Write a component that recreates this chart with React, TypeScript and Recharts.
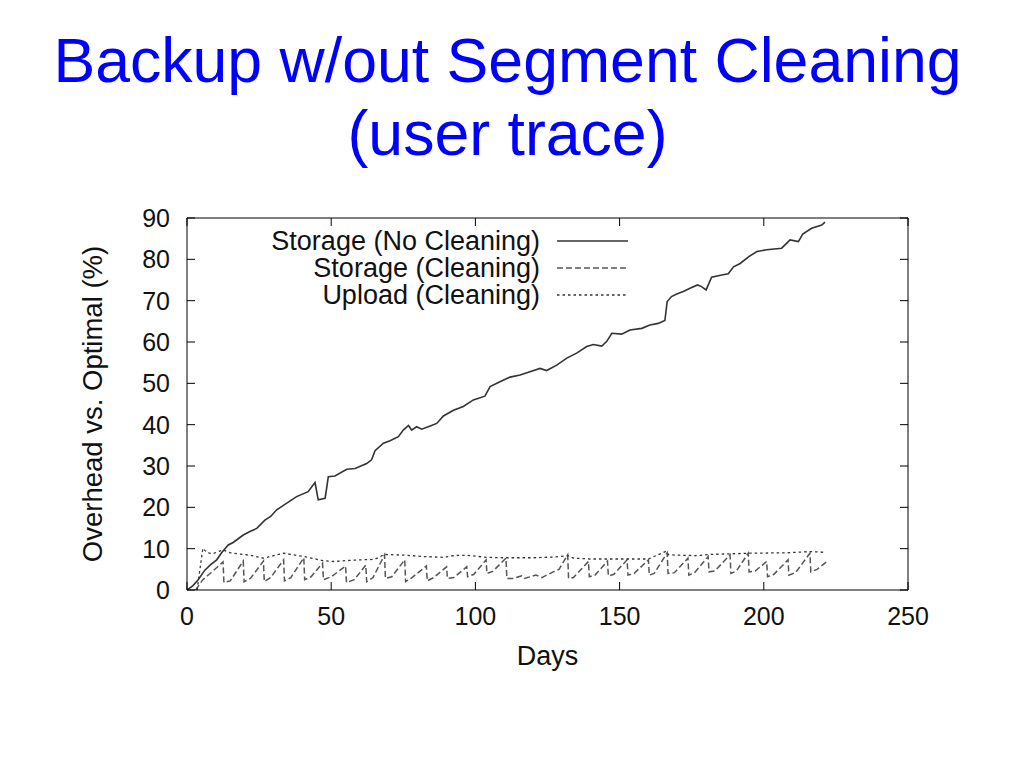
import React from "react";
import { LineChart, Line, XAxis, YAxis, Legend } from "recharts";

// Storage overhead without cleaning (day, %)
const noCleanDays = [0, 2, 3.8, 6.2, 8, 10.3, 12, 14.3, 16, 19.5, 22, 24.2, 27, 29, 31.1, 34.6, 38, 42, 44.4, 45.5, 47.9, 49, 51.3, 55.4, 58.3, 62.3, 64, 65.2, 68.1, 70.4, 73.3, 75, 76.8, 77.9, 79.6, 81.4, 84.3, 86.6, 88.9, 92.4, 95.8, 99.3, 103.3, 105.1, 108.5, 112, 115.5, 118.9, 122.4, 124.7, 128.2, 131.7, 135.1, 138.6, 140.9, 143.8, 145.5, 147.3, 150.7, 153.6, 157.7, 160.5, 163.4, 165.7, 166.5, 168, 169.8, 172.1, 174.4, 177, 178.4, 180, 181.9, 185.4, 187.7, 189.5, 191.8, 194.7, 197.6, 201, 206.2, 209.1, 212, 213.5, 216.6, 220.1, 221.2];
const noCleanValues = [0, 1.0, 2.4, 4.8, 6, 7.3, 9, 10.9, 11.5, 13.3, 14.2, 14.9, 16.9, 17.8, 19.4, 21, 22.6, 23.8, 26, 21.8, 22.2, 27.4, 27.6, 29.2, 29.4, 30.6, 31.5, 33.7, 35.5, 36.1, 37.1, 38.7, 39.8, 38.7, 39.5, 38.9, 39.7, 40.3, 42.1, 43.5, 44.4, 46, 46.9, 49.2, 50.4, 51.5, 52, 52.8, 53.6, 53.1, 54.4, 56.1, 57.3, 58.9, 59.4, 59, 60.1, 62.1, 61.9, 62.9, 63.3, 64.1, 64.5, 65.2, 69.8, 71, 71.6, 72.2, 73, 73.8, 73.4, 72.6, 75.7, 76.2, 76.5, 78.2, 79, 80.6, 81.9, 82.3, 82.7, 84.7, 84.3, 86.1, 87.5, 88.3, 89];

// Storage overhead with cleaning (day, %)
const cleanDays = [3, 5.5, 8, 12.5, 12.8, 15, 19.5, 19.8, 22, 26.5, 26.8, 29, 33.5, 33.8, 36, 40.5, 40.8, 43, 47, 47.3, 50, 55, 55.3, 58, 62, 62.3, 64.5, 68.5, 68.8, 71, 75.5, 75.8, 78, 83, 83.3, 85.5, 90, 90.3, 92.5, 97, 97.3, 99.5, 103.7, 104, 106, 110.6, 110.9, 113, 116, 117, 121, 123, 127, 129, 132, 132.3, 134, 139.2, 139.5, 141.5, 145.8, 146.1, 148, 152.6, 152.9, 155, 160, 160.3, 162, 166.5, 166.8, 169, 173.7, 174, 176, 180.7, 181, 183, 188.3, 188.6, 190.5, 194.6, 194.9, 197, 201, 201.3, 203.5, 208.4, 208.7, 211, 216, 216.3, 218.5, 221.9];
const cleanValues = [0, 2.5, 4, 6.8, 1.8, 2.2, 7.0, 2.0, 2.8, 7.0, 2.0, 3.0, 7.3, 2.2, 3.0, 7.8, 2.5, 3.2, 6.5, 2.5, 3.2, 5.8, 1.8, 2.5, 6.0, 2.0, 3.0, 8.5, 2.8, 3.2, 7.3, 2.0, 3.0, 5.8, 2.2, 3.0, 5.6, 2.8, 3.0, 5.6, 3.2, 3.8, 7.3, 4.0, 4.5, 7.7, 2.8, 2.8, 3.4, 2.8, 3.6, 3.0, 4.4, 5.0, 8.5, 2.8, 3.0, 6.9, 3.2, 3.6, 7.0, 3.4, 3.8, 7.3, 3.6, 4.0, 7.3, 3.6, 4.0, 9.0, 4.0, 4.2, 7.7, 3.6, 4.2, 8.1, 4.4, 4.6, 8.5, 4.0, 4.6, 8.9, 4.4, 4.6, 6.9, 3.2, 3.8, 7.3, 3.6, 4.2, 8.9, 4.4, 5.0, 6.9];

// Upload overhead with cleaning (day, %)
const uploadDays = [3.5, 5.5, 7, 9, 12.5, 15, 19.5, 22, 26.5, 30, 33.5, 37, 40.5, 44, 47, 51, 55, 60, 65, 68.5, 72, 76, 82, 89, 93, 97, 104, 110, 120, 128, 132, 134, 140, 152, 160, 166.2, 167, 177, 181, 195, 208, 216, 221.5];
const uploadValues = [0, 10.1, 9.0, 8.8, 9.7, 9.0, 8.6, 8.4, 7.7, 8.3, 8.9, 8.5, 8.1, 7.6, 7.1, 6.9, 7.1, 7.3, 7.4, 8.6, 8.5, 8.4, 8.1, 7.9, 8.4, 8.4, 7.9, 7.8, 7.8, 8.0, 8.3, 7.7, 7.5, 7.5, 7.5, 9.4, 8.5, 8.3, 8.6, 8.9, 9.0, 9.3, 9.1];

const xTicks = [0, 50, 100, 150, 200, 250];
const yTicks = [0, 10, 20, 30, 40, 50, 60, 70, 80, 90];

const seriesNames = ["Storage (No Cleaning)", "Storage (Cleaning)", "Upload (Cleaning)"];

const toPoints = (days: number[], vals: number[]) => days.map((d, i) => ({ d, v: vals[i] }));

const noCleanData = toPoints(noCleanDays, noCleanValues);
const cleanData = toPoints(cleanDays, cleanValues);
const uploadData = toPoints(uploadDays, uploadValues);

const FONT = "'Liberation Sans', Arial, Helvetica, sans-serif";

const styles = [
  { stroke: "#333", dash: undefined, width: 1.6 },
  { stroke: "#555", dash: "6 3", width: 1.5 },
  { stroke: "#333", dash: "2.5 3", width: 1.3 },
];

const emptyTick = () => <g />;

function LegendBox() {
  return (
    <svg width={380} height={90} style={{ fontFamily: FONT }}>
      {seriesNames.map((name, i) => (
        <g key={name}>
          <text x={280} y={16 + i * 27} fontSize={27} textAnchor="end" dominantBaseline="central" fill="#111">
            {name}
          </text>
          <line x1={297} x2={368} y1={16 + i * 27} y2={16 + i * 27} stroke={styles[i].stroke} strokeWidth={styles[i].width} strokeDasharray={styles[i].dash} />
        </g>
      ))}
    </svg>
  );
}

export default function App() {
  return (
    <div style={{ position: "absolute", left: 0, top: 0, width: 1024, height: 768, background: "#fff", fontFamily: FONT }}>
      <div style={{ position: "absolute", left: 0, top: 26, width: 1015, textAlign: "center", fontSize: 62.6, lineHeight: "69px", color: "#0000ff" }}>
        Backup w/out Segment Cleaning
      </div>
      <div style={{ position: "absolute", left: 0, top: 99, width: 1015, textAlign: "center", fontSize: 62.6, lineHeight: "69px", color: "#0000ff" }}>
        (user trace)
      </div>
      <div style={{ position: "absolute", left: 0, top: 0 }}>
        <LineChart width={1024} height={768} margin={{ top: 217, right: 115, bottom: 98, left: 87 }}>
          <XAxis
            xAxisId="bottom"
            dataKey="d"
            type="number"
            domain={[0, 250]}
            ticks={xTicks}
            allowDataOverflow
            height={80}
            tickSize={-8}
            tickMargin={25}
            stroke="#000"
            tick={{ fontSize: 25, fill: "#111", fontFamily: FONT }}
            label={{ value: "Days", position: "insideBottom", offset: 5, fontSize: 27, fill: "#111", fontFamily: FONT }}
          />
          <XAxis xAxisId="top" orientation="top" type="number" dataKey="d" domain={[0, 250]} ticks={xTicks} allowDataOverflow height={1} tickSize={-8} stroke="#000" tick={emptyTick} />
          <YAxis
            yAxisId="left"
            type="number"
            domain={[0, 90]}
            ticks={yTicks}
            allowDataOverflow
            width={100}
            tickSize={-8}
            tickMargin={25}
            stroke="#000"
            tick={{ fontSize: 25, fill: "#111", fontFamily: FONT }}
            label={{ value: "Overhead vs. Optimal (%)", angle: -90, position: "insideLeft", offset: 5, fontSize: 27.5, fill: "#111", fontFamily: FONT, style: { textAnchor: "middle" } }}
          />
          <YAxis yAxisId="right" orientation="right" type="number" domain={[0, 90]} ticks={yTicks} allowDataOverflow width={1} tickSize={-8} stroke="#000" tick={emptyTick} />
          <Legend layout="vertical" align="center" verticalAlign="middle" content={() => <LegendBox />} wrapperStyle={{ position: "absolute", left: 260, top: 225, width: 380, height: 90 }} />
          <Line xAxisId="bottom" yAxisId="left" data={noCleanData} dataKey="v" name={seriesNames[0]} type="linear" stroke={styles[0].stroke} strokeWidth={styles[0].width} dot={false} isAnimationActive={false} />
          <Line xAxisId="bottom" yAxisId="left" data={cleanData} dataKey="v" name={seriesNames[1]} type="linear" stroke={styles[1].stroke} strokeWidth={styles[1].width} strokeDasharray={styles[1].dash} dot={false} isAnimationActive={false} />
          <Line xAxisId="bottom" yAxisId="left" data={uploadData} dataKey="v" name={seriesNames[2]} type="linear" stroke={styles[2].stroke} strokeWidth={styles[2].width} strokeDasharray={styles[2].dash} dot={false} isAnimationActive={false} />
        </LineChart>
      </div>
    </div>
  );
}
